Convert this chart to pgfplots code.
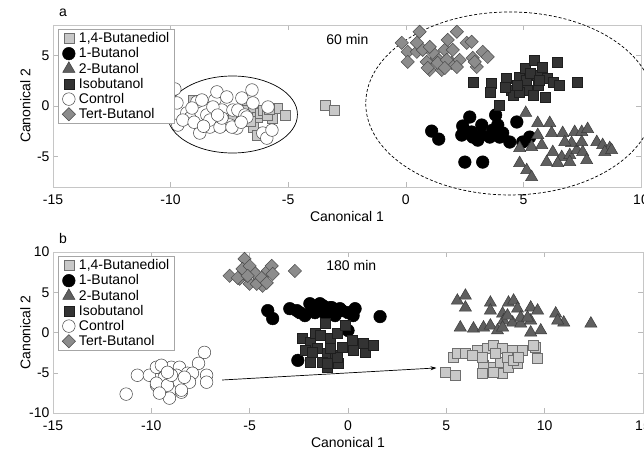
\documentclass[border=0pt]{standalone}
\usepackage{fontspec}
\setmainfont{Liberation Sans}
\usepackage{pgfplots}
\pgfplotsset{compat=1.18}
\usetikzlibrary{arrows.meta}

\definecolor{cA}{HTML}{C8C8C8}\definecolor{cAe}{HTML}{6E6E6E}
\definecolor{cC}{HTML}{5F5F5F}\definecolor{cCe}{HTML}{3A3A3A}
\definecolor{cD}{HTML}{333333}\definecolor{cDe}{HTML}{1E1E1E}
\definecolor{cF}{HTML}{8C8C8C}\definecolor{cFe}{HTML}{4B4B4B}
\newcommand\fs{\fontsize{14}{16}\selectfont}

\pgfplotsset{
  panel/.style={
    scale only axis, clip=false,
    tick align=inside, major tick length=5pt,
    axis line style={draw=gray!45},
    major tick style={draw=gray!55, line width=0.5pt},
    tick label style={font=\fs},
    xticklabel style={yshift=-4pt},
    /pgf/number format/assume math mode=true,
    label style={font=\fs},
    xlabel={Canonical 1}, ylabel={Canonical 2},
    xlabel style={at={(axis description cs:0.5,0)}, anchor=north, yshift=-21pt},
    ylabel style={at={(axis description cs:0,0.5)}, anchor=south, yshift=19pt},
    title style={at={(axis description cs:0,1)}, anchor=south west, xshift=4pt, inner sep=2pt, font=\fs},
    legend style={at={(axis description cs:0,1)}, anchor=north west, xshift=5pt, yshift=-4pt,
      draw=gray!70, fill=white, font=\fontsize{14}{15}\selectfont,
      inner xsep=4pt, inner ysep=1.5pt, row sep=-0.5pt, /tikz/column sep=2.5pt,
      nodes={inner xsep=1pt}},
    legend cell align=left,
    legend image code/.code={\draw[#1] plot coordinates {(0pt,0pt)};},
  },
  sA/.style={only marks, mark=square*, mark size=5pt, mark options={fill=cA, draw=cAe, line width=0.5pt}},
  sB/.style={only marks, mark=*, mark size=6.3pt, mark options={fill=black, draw=black, line width=0.5pt}},
  sC/.style={only marks, mark=triangle*, mark size=7pt, mark options={fill=cC, draw=cCe, line width=0.5pt}},
  sD/.style={only marks, mark=square*, mark size=5pt, mark options={fill=cD, draw=cDe, line width=0.5pt}},
  sE/.style={only marks, mark=*, mark size=6.3pt, mark options={fill=white, draw=black!75, line width=0.5pt}},
  sF/.style={only marks, mark=square*, mark size=4.7pt, mark options={rotate=45, fill=cF, draw=cFe, line width=0.5pt}},
}

\begin{document}
\begin{tikzpicture}
% ---------------- panel a : 60 min ----------------
\begin{axis}[panel, at={(53pt,-187pt)}, anchor=south west,
  width=588pt, height=162pt,
  xmin=-15, xmax=10, ymin=-8, ymax=8,
  xtick={-15,-10,-5,0,5,10}, ytick={-5,0,5},
  title={a}]
\addplot[sA] coordinates {
 (-9.05,0.59) (-6.76,-0.10) (-6.50,-0.20) (-6.33,-1.09) (-6.20,-0.69) (-6.08,-0.40)
 (-5.69,-1.19) (-5.48,-0.20) (-5.14,-0.89) (-7.35,-0.89) (-6.50,-2.08) (-6.33,-2.87)
 (-8.20,-0.89) (-7.90,-1.88) (-5.91,-0.89) (-3.44,0.10) (-3.06,-0.40)
 (-7.00,-1.30) (-6.90,-0.40) (-6.60,-1.50) (-5.80,-0.30)
};
\addplot[sB] coordinates {
 (1.10,-2.48) (1.40,-3.27) (2.72,-1.09) (2.42,-1.98) (2.38,-2.87) (2.80,-2.57)
 (3.23,-1.88) (3.23,-2.87) (3.57,-3.07) (3.82,-0.89) (3.91,-1.88) (3.99,-3.07)
 (4.42,-3.56) (4.72,-1.58) (2.51,-5.54) (3.27,-5.54) (2.85,-3.07) (3.70,-2.38)
 (4.12,-2.67) (4.97,-3.56) (5.27,-3.07) (3.06,-3.37)
};
\addplot[sC] coordinates {
 (5.10,-0.69) (5.61,-1.68) (6.12,-1.68) (5.61,-2.87) (6.20,-2.67) (6.67,-2.67)
 (7.18,-2.57) (7.48,-2.57) (7.73,-2.28) (4.84,-4.16) (5.35,-4.06) (5.78,-3.86)
 (6.25,-4.55) (6.63,-5.05) (6.97,-4.85) (7.27,-4.36) (7.52,-4.55) (7.05,-3.66)
 (7.48,-3.56) (8.12,-3.56) (8.37,-3.86) (8.67,-4.16) (8.46,-4.55) (8.75,-4.36)
 (5.99,-5.54) (6.46,-5.64) (6.97,-5.54) (7.69,-5.35) (4.84,-5.64) (5.14,-6.34)
 (5.35,-7.03) (6.76,-3.56)
};
\addplot[sD] coordinates {
 (2.85,2.38) (3.65,2.28) (3.57,1.39) (3.99,0.10) (4.29,2.77) (4.50,1.58)
 (4.55,1.09) (4.84,2.87) (5.06,3.76) (5.14,2.57) (5.18,1.58) (5.48,4.55)
 (5.57,3.07) (5.61,2.08) (5.82,3.86) (5.91,0.89) (6.03,2.77) (6.25,2.38)
 (6.42,4.36) (6.54,2.08) (7.31,2.38) (4.84,1.39) (5.40,1.09) (4.72,2.08)
 (4.21,1.88) (5.27,3.27) (5.69,2.57)
};
\addplot[sE] coordinates {
 (-9.82,1.68) (-9.73,0.30) (-9.69,-1.88) (-9.31,-0.69) (-9.18,-1.19) (-8.88,0.40)
 (-8.76,-2.67) (-8.67,0.59) (-8.46,-0.89) (-8.33,-2.08) (-8.12,0.59) (-8.03,1.39)
 (-7.82,-0.40) (-7.61,0.89) (-7.48,-1.88) (-7.35,-0.40) (-7.18,-2.18) (-7.14,-0.40)
 (-6.97,0.79) (-6.84,-0.89) (-6.76,-1.09) (-6.54,1.58) (-6.50,0.30) (-6.08,-2.67)
 (-5.91,-3.17) (-5.86,-0.10) (-5.69,-2.38) (-9.48,-1.39) (-9.09,-0.20) (-8.33,-1.39)
 (-7.90,-2.08) (-7.39,-2.08) (-8.20,-0.10) (-7.82,-1.19) (-9.00,-1.60) (-8.00,-0.90)
 (-7.00,-1.60) (-8.60,-2.00)
};
\addplot[sF] coordinates {
 (-0.17,6.24) (0.59,7.33) (0.08,5.35) (0.47,5.35) (0.72,5.54) (0.89,4.36)
 (1.02,3.56) (1.32,4.75) (1.53,3.56) (1.66,5.54) (1.78,6.53) (2.00,5.54)
 (2.17,7.33) (1.95,4.26) (2.29,4.55) (2.59,6.24) (2.80,6.34) (2.85,4.75)
 (3.02,3.86) (3.27,5.35) (3.48,4.85) (1.15,5.25) (1.36,4.26) (1.74,4.55)
 (2.17,3.86) (1.02,5.84) (0.47,6.24) (0.08,4.36) (0.93,3.76) (1.66,3.76) (2.93,4.36)
};
\legend{1{,}4-Butanediol,1-Butanol,2-Butanol,Isobutanol,Control,Tert-Butanol}
\draw[line width=0.7pt] (axis cs:-7.37,-0.84) ellipse [x radius=65pt, y radius=38.5pt];
\draw[line width=0.7pt, dash pattern=on 3pt off 2pt] (axis cs:4.42,0.25) ellipse [x radius=144pt, y radius=91.5pt];
\node[anchor=west, font=\fs] at (axis cs:-3.53,6.53) {60 min};
\end{axis}

% ---------------- panel b : 180 min ----------------
\begin{axis}[panel, at={(53pt,-413pt)}, anchor=south west,
  width=590pt, height=161pt,
  xmin=-15, xmax=15, ymin=-10, ymax=10,
  xtick={-15,-10,-5,0,5,10,15}, ytick={-10,-5,0,5,10},
  title={b}]
\addplot[sA] coordinates {
 (4.95,-4.94) (5.46,-5.31) (5.36,-3.09) (5.56,-2.59) (5.97,-2.59) (6.58,-2.22)
 (7.09,-1.98) (7.40,-1.60) (7.86,-1.98) (8.37,-2.22) (8.88,-2.22) (9.54,-1.85)
 (9.64,-3.21) (6.89,-4.07) (6.84,-5.06) (7.40,-4.32) (7.76,-3.70) (7.86,-5.06)
 (8.16,-4.32) (8.62,-3.83) (7.50,-2.59) (8.11,-3.09) (8.42,-3.46) (6.84,-3.09)
 (6.33,-2.84) (7.40,-4.94) (8.67,-3.09) (9.44,-1.60)
};
\addplot[sB] coordinates {
 (-4.08,2.72) (-3.83,1.73) (-2.96,2.96) (-2.60,2.72) (-2.45,2.47) (-2.19,2.10)
 (-1.94,3.58) (-1.68,2.47) (-1.43,3.58) (-1.17,2.35) (-0.92,3.09) (-0.66,2.10)
 (-0.41,2.96) (-0.31,2.72) (0.00,2.47) (0.26,2.10) (0.36,2.96) (1.63,1.98)
 (0.00,0.25) (-2.55,-3.46) (-1.28,3.33) (-0.82,3.09) (-1.84,2.96) (-1.33,2.72)
};
\addplot[sC] coordinates {
 (5.56,3.95) (5.97,4.57) (5.97,3.09) (7.24,3.70) (7.24,2.72) (7.86,2.35)
 (8.16,3.70) (8.42,3.95) (8.62,2.96) (9.29,3.09) (9.64,2.72) (10.56,2.35)
 (10.97,1.23) (12.35,1.11) (5.71,0.62) (6.38,0.49) (6.89,0.62) (7.24,0.86)
 (7.60,0.25) (7.91,1.48) (8.37,1.23) (8.78,1.11) (9.29,1.48) (9.80,0.25)
 (9.29,0.00) (10.66,1.48) (8.11,2.10) (8.78,1.85) (9.13,1.85) (7.86,0.62)
};
\addplot[sD] coordinates {
 (-2.35,-0.74) (-1.94,-1.23) (-1.68,-0.12) (-1.43,-0.37) (-0.92,-0.74) (-0.56,-0.12)
 (-2.19,-2.22) (-1.58,-1.98) (-1.07,-2.59) (-0.66,-2.84) (-0.31,-1.85) (0.20,-0.99)
 (0.26,-2.22) (0.87,-2.47) (1.28,-1.60) (0.77,-1.36) (-1.94,-3.70) (-1.33,-3.70)
 (-1.07,-4.32) (-0.51,-3.83) (-1.17,1.11) (-0.15,0.86) (-0.56,-3.09) (-1.07,-3.83)
 (-1.84,-2.47) (-0.92,-1.98)
};
\addplot[sE] coordinates {
 (-7.30,-2.47) (-7.60,-3.83) (-7.19,-5.31) (-7.19,-6.17) (-8.98,-4.32) (-9.74,-6.54)
 (-9.08,-8.15) (-8.47,-7.41) (-10.71,-5.31) (-11.28,-7.65) (-10.10,-5.31) (-9.59,-4.32)
 (-8.57,-4.32) (-8.16,-5.06) (-9.34,-5.56) (-8.72,-5.31) (-7.91,-5.06) (-9.74,-6.30)
 (-9.18,-6.54) (-8.57,-6.17) (-8.06,-6.17) (-9.59,-7.53) (-8.47,-7.16) (-9.74,-4.32)
 (-9.49,-4.07) (-8.98,-5.31) (-8.32,-5.56) (-9.18,-4.94)
};
\addplot[sF] coordinates {
 (-5.26,9.14) (-6.02,7.04) (-5.51,6.67) (-5.00,6.05) (-4.85,7.65) (-4.49,6.67)
 (-4.08,7.65) (-3.88,8.27) (-3.83,7.28) (-4.34,5.80) (-4.64,6.05) (-5.26,7.28)
 (-2.70,7.65) (-5.36,7.90) (-4.74,7.41) (-4.39,6.79) (-4.13,6.17) (-5.61,6.79)
 (-5.00,8.27) (-5.10,7.04)
};
\legend{1{,}4-Butanediol,1-Butanol,2-Butanol,Isobutanol,Control,Tert-Butanol}
\draw[line width=0.7pt, -{Stealth[length=6pt, width=4pt]}] (axis cs:-6.4,-5.9) -- (axis cs:4.5,-4.4);
\node[anchor=west, font=\fs] at (axis cs:-1.28,8.27) {180 min};
\end{axis}

\pgfresetboundingbox
\path[use as bounding box] (0pt,0pt) rectangle (644pt,-452pt);
\end{tikzpicture}
\end{document}
